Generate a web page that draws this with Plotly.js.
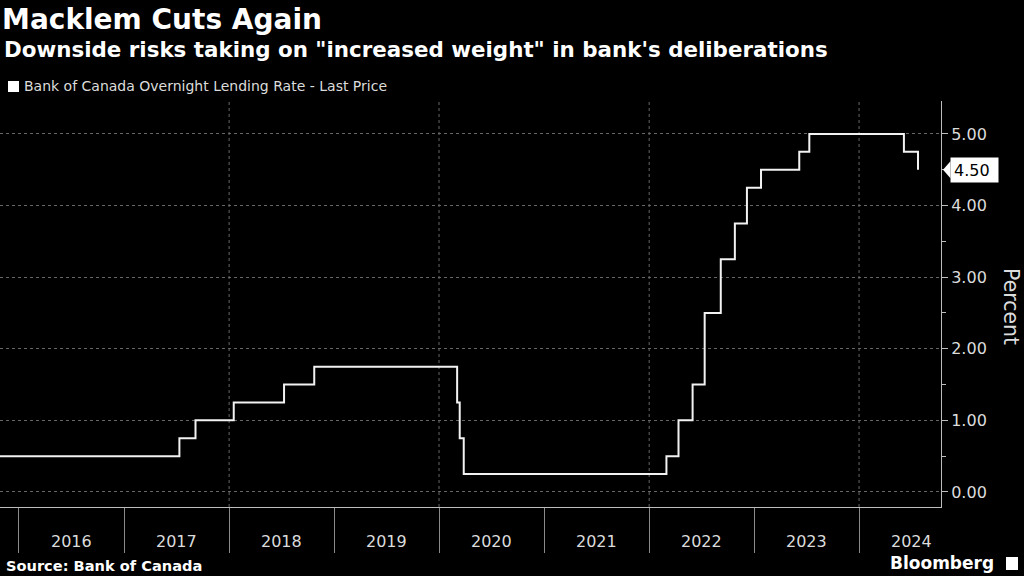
<!DOCTYPE html>
<html>
<head>
<meta charset="utf-8">
<script src="https://cdn.plot.ly/plotly-3.0.1.min.js"></script>
<style>html,body{margin:0;padding:0;background:#000;}#chart{width:1024px;height:576px;}</style>
</head>
<body>
<div id="chart"></div>
<script>
const titleText = "Macklem Cuts Again";
const subtitleText = 'Downside risks taking on "increased weight" in bank\'s deliberations';
const seriesName = "Bank of Canada Overnight Lending Rate - Last Price";
const sourceText = "Source: Bank of Canada";
const yAxisLabel = "Percent";

const rateDates = ['2015-10-27','2017-07-12','2017-09-06','2018-01-17','2018-07-11','2018-10-24',
  '2020-03-04','2020-03-13','2020-03-27','2022-03-02','2022-04-13','2022-06-01','2022-07-13',
  '2022-09-07','2022-10-26','2022-12-07','2023-01-25','2023-06-07','2023-07-12','2024-06-05','2024-07-24'];
const rateValues = [0.50,0.75,1.00,1.25,1.50,1.75,1.25,0.75,0.25,0.50,1.00,1.50,2.50,3.25,3.75,4.25,4.50,4.75,5.00,4.75,4.50];

const years = ['2016','2017','2018','2019','2020','2021','2022','2023','2024'];
const gridYears = ['2018','2020','2022','2024'];
const yTicks = [0,1,2,3,4,5];
const xRange = ['2015-10-27','2024-10-12'];
const yRange = [-0.21, 5.46];

const fontReg = 'DejaVu Sans, sans-serif';
const txt = '#dcdcdc';

const trace = {
  x: rateDates, y: rateValues, type: 'scatter', mode: 'lines',
  line: {shape: 'hv', color: '#f2f2f2', width: 2},
  name: seriesName, showlegend: false, hoverinfo: 'x+y'
};

const lastVal = rateValues[rateValues.length - 1];

const annotations = [
  {text: subtitleText, xref: 'paper', yref: 'paper', x: 0.002, y: 1 + (101 - 50) / 406, xanchor: 'left', yanchor: 'middle',
   showarrow: false, font: {family: fontReg, size: 21.4, color: '#ffffff', weight: 'bold'}},
  {text: seriesName, xref: 'paper', yref: 'paper', x: 22 / 941, y: 1 + (101 - 86) / 406, xanchor: 'left', yanchor: 'middle',
   showarrow: false, font: {family: fontReg, size: 14, color: txt}},
  {text: sourceText, xref: 'paper', yref: 'paper', x: 4 / 941, y: -(565 - 507) / 406, xanchor: 'left', yanchor: 'middle',
   showarrow: false, font: {family: fontReg, size: 14.6, color: '#ffffff', weight: 'bold'}},
  {text: 'Bloomberg', xref: 'paper', yref: 'paper', x: 996 / 941, y: -(563 - 507) / 406, xanchor: 'right', yanchor: 'middle',
   showarrow: false, font: {family: fontReg, size: 17, color: '#ffffff', weight: 'bold'}},
  {text: yAxisLabel, xref: 'paper', yref: 'paper', x: 1011 / 941, y: (507 - 306) / 406, xanchor: 'center', yanchor: 'middle',
   textangle: 90, showarrow: false, font: {family: fontReg, size: 20.5, color: txt}},
  {text: lastVal.toFixed(2), xref: 'paper', yref: 'y', x: 950 / 941, y: lastVal, xanchor: 'left', yanchor: 'middle',
   showarrow: false, bgcolor: '#ffffff', borderpad: 3, width: 41, height: 18, align: 'left',
   font: {family: fontReg, size: 16, color: '#000000'}}
];
years.forEach(function (yr) {
  annotations.push({text: yr, xref: 'x', yref: 'paper', x: yr + '-07-02', y: -(541 - 507) / 406,
    xanchor: 'center', yanchor: 'middle', showarrow: false, font: {family: fontReg, size: 16, color: txt}});
});

const shapes = [
  {type: 'rect', xref: 'paper', yref: 'paper', x0: 8 / 941, x1: 19 / 941, y0: 1 + (101 - 92) / 406, y1: 1 + (101 - 81) / 406,
   fillcolor: '#ffffff', line: {width: 0}},
  {type: 'path', xref: 'paper', yref: 'y', xsizemode: 'pixel', xanchor: 950 / 941,
   path: 'M 0.5,' + (lastVal + 0.12) + ' L -7,' + lastVal + ' L 0.5,' + (lastVal - 0.12) + ' Z',
   fillcolor: '#ffffff', line: {width: 0}},
  {type: 'rect', xref: 'paper', yref: 'paper', x0: 1006 / 941, x1: 1018 / 941, y0: -(570 - 507) / 406, y1: -(557 - 507) / 406,
   fillcolor: '#ffffff', line: {width: 0}}
];
gridYears.forEach(function (yr) {
  shapes.push({type: 'line', xref: 'x', yref: 'paper', x0: yr + '-01-01', x1: yr + '-01-01', y0: 0, y1: 1,
    layer: 'below', line: {color: '#666666', width: 1, dash: 'dot'}});
});

const layout = {
  width: 1024, height: 576,
  paper_bgcolor: '#000000', plot_bgcolor: '#000000',
  margin: {l: 0, r: 83, t: 101, b: 69, pad: 0},
  title: {text: titleText, xref: 'container', yref: 'container', x: 0.002, xanchor: 'left', y: 1 - 19 / 576, yanchor: 'middle',
    font: {family: fontReg, size: 28, color: '#ffffff', weight: 'bold'}},
  xaxis: {type: 'date', range: xRange, tickvals: years.map(function (y) { return y + '-01-01'; }),
    showticklabels: false, ticks: 'outside', ticklen: 45, tickwidth: 1, tickcolor: '#8a8a8a',
    showline: true, linecolor: '#bdbdbd', linewidth: 1, showgrid: false, zeroline: false, fixedrange: true},
  yaxis: {side: 'right', range: yRange, tickvals: yTicks, tickformat: '.2f', ticks: 'outside', ticklen: 6, tickwidth: 1,
    tickcolor: '#bdbdbd', showline: true, linecolor: '#bdbdbd', linewidth: 1,
    showgrid: true, gridcolor: '#666666', griddash: 'dot', gridwidth: 1, zeroline: false,
    tickfont: {family: fontReg, size: 16, color: txt},
    minor: {tickvals: [0.5, 1.5, 2.5, 3.5, 4.5], ticks: 'outside', ticklen: 4, tickcolor: '#bdbdbd', showgrid: false},
    fixedrange: true},
  showlegend: false,
  annotations: annotations,
  shapes: shapes
};

Plotly.newPlot('chart', [trace], layout, {displayModeBar: false, staticPlot: true});
</script>
</body>
</html>
